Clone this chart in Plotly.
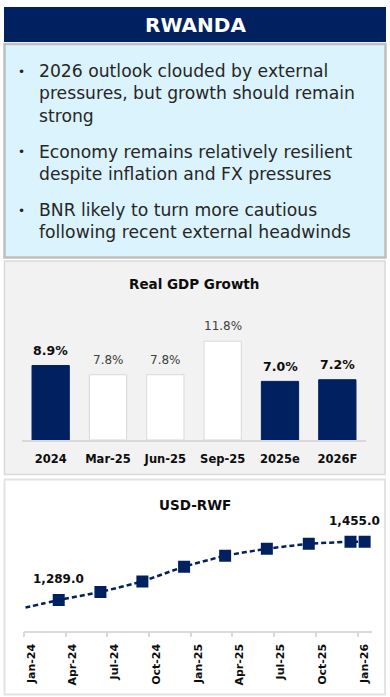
import plotly.graph_objects as go
import pandas as pd

# ---------------- data ----------------
title_text = "RWANDA"
bullets = [
    "2026 outlook clouded by external<br>pressures, but growth should remain<br>strong",
    "Economy remains relatively resilient<br>despite inflation and FX pressures",
    "BNR likely to turn more cautious<br>following recent external headwinds",
]

gdp_title = "Real GDP Growth"
gdp_categories = ["2024", "Mar-25", "Jun-25", "Sep-25", "2025e", "2026F"]
gdp_values = [8.9, 7.8, 7.8, 11.8, 7.0, 7.2]
gdp_annual = ["2024", "2025e", "2026F"]

fx_title = "USD-RWF"
fx_months = ["2023-12", "2024-03", "2024-06", "2024-09", "2024-12",
             "2025-03", "2025-06", "2025-09", "2025-12", "2026-01"]
fx_values = [1262, 1289, 1312, 1342, 1384, 1415, 1435, 1449, 1455, 1455]
fx_labelled = ["2024-03", "2026-01"]

# ---------------- style ----------------
W, H = 390, 697
NAVY = "#002060"
FONT = "DejaVu Sans"


def px(x):
    return x / W


def py(y):
    return 1 - y / H


# mid-month positions for monthly observations
fx_x = []
for m in fx_months:
    p = pd.Period(m, "M")
    fx_x.append(p.start_time + pd.Timedelta(hours=12 * p.days_in_month))

fig = go.Figure()

# bar chart
bar_colors = [NAVY if c in gdp_annual else "white" for c in gdp_categories]
bar_lines = [NAVY if c in gdp_annual else "#D9D9D9" for c in gdp_categories]
fig.add_trace(go.Bar(
    x=gdp_categories, y=gdp_values,
    marker=dict(color=bar_colors, line=dict(color=bar_lines, width=1)),
    xaxis="x", yaxis="y", showlegend=False, hoverinfo="skip",
))

# line chart
fig.add_trace(go.Scatter(
    x=fx_x, y=fx_values, mode="lines+markers",
    line=dict(color=NAVY, width=2.5, dash="5px,3px", shape="spline", smoothing=0.4),
    marker=dict(symbol="square", size=12, color=NAVY),
    xaxis="x2", yaxis="y2", showlegend=False, hoverinfo="skip",
))

annotations = []
# title bar
annotations.append(dict(
    text=f"<b>{title_text}</b>", x=px(195), y=py(25), xref="paper", yref="paper",
    xanchor="center", yanchor="middle", showarrow=False,
    font=dict(family=FONT, size=20, color="white"),
))
# bullets
bullet_centers = [93.4, 162.5, 221.2]
bullet_first = [71.7, 151.7, 210.7]
for txt, yc, yf in zip(bullets, bullet_centers, bullet_first):
    annotations.append(dict(
        text=txt, x=px(37), y=py(yc), xref="paper", yref="paper",
        xanchor="left", yanchor="middle", align="left", showarrow=False,
        font=dict(family=FONT, size=17.2, color="#262626"),
    ))
    annotations.append(dict(
        text="•", x=px(21), y=py(yf), xref="paper", yref="paper",
        xanchor="center", yanchor="middle", showarrow=False,
        font=dict(family=FONT, size=12, color="#262626"),
    ))
# chart titles
annotations.append(dict(
    text=f"<b>{gdp_title}</b>", x=px(194), y=py(284), xref="paper", yref="paper",
    xanchor="center", yanchor="middle", showarrow=False,
    font=dict(family=FONT, size=13.5, color="#0D0D0D"),
))
annotations.append(dict(
    text=f"<b>{fx_title}</b>", x=px(195), y=py(505), xref="paper", yref="paper",
    xanchor="center", yanchor="middle", showarrow=False,
    font=dict(family=FONT, size=13.5, color="#0D0D0D"),
))
# bar value labels (x given as category index on the category axis)
for i, (c, v) in enumerate(zip(gdp_categories, gdp_values)):
    bold = c in gdp_annual
    annotations.append(dict(
        text=(f"<b>{v:.1f}%</b>" if bold else f"{v:.1f}%"),
        x=i, y=v, xref="x", yref="y", yshift=15,
        xanchor="center", yanchor="middle", showarrow=False,
        font=dict(family=FONT, size=12.5 if bold else 12,
                  color="#0D0D0D" if bold else "#404040"),
    ))
# fx labels
for m, xv, v in zip(fx_months, fx_x, fx_values):
    if m in fx_labelled:
        last = m == fx_months[-1]
        annotations.append(dict(
            text=f"<b>{v:,.1f}</b>", x=xv, y=v, xref="x2", yref="y2",
            yshift=21, xshift=-10 if last else 0,
            xanchor="center", yanchor="middle", showarrow=False,
            font=dict(family=FONT, size=12, color="#0D0D0D"),
        ))

shapes = [
    dict(type="rect", xref="paper", yref="paper", x0=px(4), x1=px(386), y0=py(7), y1=py(42),
         fillcolor=NAVY, line=dict(width=0), layer="below"),
    dict(type="rect", xref="paper", yref="paper", x0=px(4.5), x1=px(385.5), y0=py(44), y1=py(257.5),
         fillcolor="#DBF3FC", line=dict(color="#BFBFBF", width=2.5), layer="below"),
    dict(type="rect", xref="paper", yref="paper", x0=px(4.5), x1=px(385), y0=py(261), y1=py(474.5),
         fillcolor="#F2F2F2", line=dict(color="#D9D9D9", width=1.5), layer="below"),
    dict(type="rect", xref="paper", yref="paper", x0=px(4.5), x1=px(385), y0=py(479.5), y1=py(694.5),
         fillcolor="white", line=dict(color="#E3E3E3", width=2), layer="below"),
]

fig.update_layout(
    width=W, height=H, margin=dict(l=0, r=0, t=0, b=0),
    paper_bgcolor="white", plot_bgcolor="rgba(0,0,0,0)",
    bargap=0.35, showlegend=False,
    annotations=annotations, shapes=shapes,
    xaxis=dict(
        domain=[px(22), px(366)], type="category", anchor="y",
        categoryorder="array", categoryarray=gdp_categories,
        range=[-0.5, len(gdp_categories) - 0.5],
        showline=True, linecolor="#D9D9D9", linewidth=1.5,
        showgrid=False, zeroline=False, ticks="", ticklabelstandoff=7,
        tickfont=dict(family=FONT, size=11.5, color="#0D0D0D", weight="bold"),
    ),
    yaxis=dict(
        domain=[py(440), py(322.8)], range=[0, 14], visible=False, anchor="x",
    ),
    xaxis2=dict(
        domain=[px(24.3), px(371.7)], type="date", anchor="y2",
        range=["2024-01-01", "2026-02-01"], tick0="2024-01-01", dtick="M3",
        tickformat="%b-%y", tickangle=-90,
        showline=True, linecolor="#D9D9D9", linewidth=1.5,
        ticks="outside", ticklen=5, tickcolor="#D9D9D9", tickwidth=1.5,
        showgrid=False, zeroline=False, ticklabelshift=7, ticklabelstandoff=2,
        tickfont=dict(family=FONT, size=11, color="#0D0D0D", weight="bold"),
    ),
    yaxis2=dict(
        domain=[py(630.7), py(520)], range=[1201.6, 1516.8], visible=False, anchor="x2",
    ),
)

fig.write_html("out.html", config={"displayModeBar": False},
               post_script="document.body.style.margin='0';")
